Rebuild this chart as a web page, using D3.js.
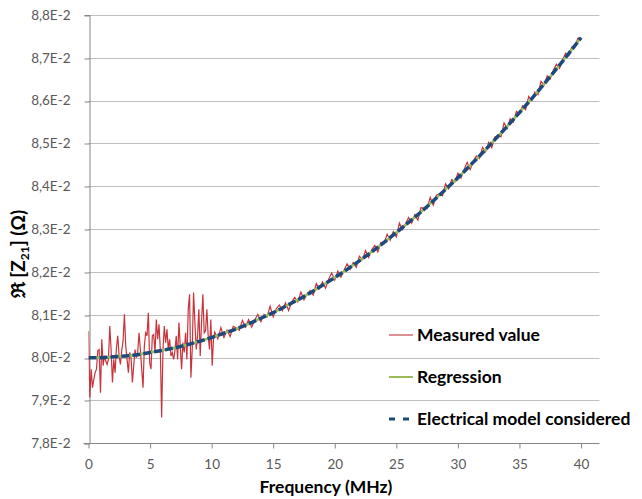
<!DOCTYPE html>
<html><head><meta charset="utf-8">
<script src="https://cdn.jsdelivr.net/npm/d3@7"></script>
<style>body{margin:0;background:#fff;} svg{display:block;}</style>
</head><body>
<svg id="c" width="642" height="499"></svg>
<script>
// ---- data ----
const xTicks = [0, 5, 10, 15, 20, 25, 30, 35, 40];
const yTicks = [0.078, 0.079, 0.080, 0.081, 0.082, 0.083, 0.084, 0.085, 0.086, 0.087, 0.088];
const yTickLabels = ["7,8E-2","7,9E-2","8,0E-2","8,1E-2","8,2E-2","8,3E-2","8,4E-2","8,5E-2","8,6E-2","8,7E-2","8,8E-2"];
const seriesNames = ["Measured value", "Regression", "Electrical model considered"];

// frequency grid (MHz) of the fitted curves
const curveFreq = [0,1,2,3,4,5,6,7,8,9,10,11,12,13,14,15,16,17,18,19,20,21,22,23,24,25,26,27,28,29,30,31,32,33,34,35,36,37,38,39,40];
const regression = [0.08000,0.08000,0.08002,0.08004,0.08007,0.08012,0.08017,0.08023,0.08030,0.08038,0.08047,0.08057,0.08067,0.08079,0.08092,0.08105,0.08120,0.08135,0.08151,0.08169,0.08187,0.08206,0.08226,0.08247,0.08269,0.08292,0.08316,0.08340,0.08366,0.08393,0.08420,0.08449,0.08478,0.08509,0.08540,0.08572,0.08605,0.08639,0.08674,0.08710,0.08747];
const electricalModel = [0.08000,0.08000,0.08002,0.08004,0.08007,0.08012,0.08017,0.08023,0.08030,0.08038,0.08047,0.08057,0.08067,0.08079,0.08092,0.08105,0.08120,0.08135,0.08151,0.08169,0.08187,0.08206,0.08226,0.08247,0.08269,0.08292,0.08316,0.08340,0.08366,0.08393,0.08420,0.08449,0.08478,0.08509,0.08540,0.08572,0.08605,0.08639,0.08674,0.08710,0.08747];

// measured value, low band (0 - 10.15 MHz, step 0.108 MHz)
const measuredLow = [0.08062,0.07907,0.07973,0.07930,0.07949,0.07965,0.07973,0.08016,0.08019,0.07918,
0.08043,0.07981,0.08004,0.07992,0.07984,0.07996,0.08074,0.08019,0.07942,0.07996,
0.07965,0.08023,0.08051,0.08004,0.07984,0.08016,0.08039,0.08101,0.08027,0.07996,
0.07965,0.08012,0.08000,0.07942,0.07981,0.08019,0.08000,0.08012,0.08058,0.08019,
0.07973,0.07930,0.08027,0.08058,0.08051,0.08105,0.07988,0.07973,0.08051,0.08054,
0.08012,0.08089,0.08043,0.08078,0.08019,0.07860,0.08019,0.08074,0.08035,0.08066,
0.08019,0.08043,0.08004,0.08012,0.07996,0.08016,0.08051,0.07996,0.08082,0.08027,
0.07973,0.08035,0.08012,0.08058,0.07996,0.08113,0.08148,0.07953,0.08019,0.08152,
0.08082,0.08019,0.08051,0.08113,0.08004,0.08082,0.08148,0.08058,0.08062,0.08113,
0.08051,0.08019,0.08089,0.07981,0.08043];
// measured value, high band (10.25 - 40 MHz, step 0.25 MHz)
const measuredHigh = [0.08060,0.08044,0.08070,0.08047,0.08064,0.08049,0.08073,0.08069,0.08064,0.08087,
0.08071,0.08089,0.08071,0.08088,0.08101,0.08084,0.08101,0.08095,0.08120,0.08095,
0.08114,0.08123,0.08110,0.08128,0.08110,0.08130,0.08141,0.08130,0.08153,0.08135,
0.08149,0.08157,0.08146,0.08173,0.08161,0.08177,0.08162,0.08183,0.08198,0.08181,
0.08202,0.08188,0.08204,0.08219,0.08206,0.08222,0.08211,0.08237,0.08229,0.08250,
0.08234,0.08252,0.08262,0.08247,0.08269,0.08266,0.08288,0.08274,0.08294,0.08282,
0.08314,0.08299,0.08313,0.08327,0.08314,0.08334,0.08321,0.08350,0.08349,0.08348,
0.08374,0.08356,0.08379,0.08382,0.08378,0.08406,0.08394,0.08416,0.08410,0.08431,
0.08419,0.08439,0.08456,0.08439,0.08459,0.08471,0.08465,0.08491,0.08481,0.08503,
0.08490,0.08515,0.08518,0.08516,0.08548,0.08535,0.08558,0.08550,0.08575,0.08569,
0.08588,0.08579,0.08610,0.08600,0.08620,0.08614,0.08645,0.08636,0.08658,0.08651,
0.08671,0.08685,0.08675,0.08695,0.08711,0.08705,0.08725,0.08726,0.08746,0.08747];

const measuredFreq = measuredLow.map((v, i) => i * 0.108).concat(measuredHigh.map((v, i) => 10.25 + i * 0.25));
const measured = measuredLow.concat(measuredHigh);

// ---- drawing ----
const svg = d3.select("#c");
const font = "Lato, 'Open Sans', sans-serif";
const x = d3.scaleLinear().domain([0, 41.5]).range([88.5, 599.5]);
const y = d3.scaleLinear().domain([0.078, 0.088]).range([443.3, 15]);

// gridlines
svg.append("g").selectAll("line").data(yTicks.slice(1)).join("line")
  .attr("x1", x(0)).attr("x2", x(41.5))
  .attr("y1", d => Math.round(y(d)) + 0.5).attr("y2", d => Math.round(y(d)) + 0.5)
  .attr("stroke", "#bfbfbf").attr("stroke-width", 1);

// y axis
const yAxis = d3.axisLeft(y).tickValues(yTicks).tickSize(5).tickPadding(14)
  .tickFormat((d, i) => yTickLabels[i]);
const gy = svg.append("g").attr("transform", `translate(${Math.round(x(0)) + 0.5},0)`).call(yAxis);
gy.selectAll(".tick line").attr("transform", d => `translate(0,${Math.round(y(d)) + 0.5 - y(d)})`);

// x axis
const xAxis = d3.axisBottom(x).tickValues(xTicks).tickSize(5).tickPadding(11).tickFormat(d3.format("d"));
const gx = svg.append("g").attr("transform", `translate(0,${Math.round(y(0.078)) + 0.5})`).call(xAxis);
gx.select(".domain").attr("d", `M${x(0) - 5},0H${x(41.5)}`);

[gx, gy].forEach(g => {
  g.select(".domain").attr("stroke", "#868686");
  g.selectAll(".tick line").attr("stroke", "#868686");
  g.selectAll(".tick text").attr("fill", "#595959").style("font-family", font).style("font-size", "13.5px");
});

// series
svg.append("clipPath").attr("id", "pa").append("rect")
  .attr("x", x(0)).attr("y", 0).attr("width", x(41.5) - x(0)).attr("height", y(0.078));
const plot = svg.append("g").attr("clip-path", "url(#pa)");

const line = d3.line().x(d => x(d[0])).y(d => y(d[1]));
plot.append("path").datum(measuredFreq.map((f, i) => [f, measured[i]]))
  .attr("d", line).attr("fill", "none").attr("stroke", "#c8333b").attr("stroke-width", 1.2);
const curve = d3.line().curve(d3.curveMonotoneX).x(d => x(d[0])).y(d => y(d[1]));
plot.append("path").datum(curveFreq.map((f, i) => [f, regression[i]]))
  .attr("d", curve).attr("fill", "none").attr("stroke", "#9bbb59").attr("stroke-width", 2.5);
plot.append("path").datum(curveFreq.map((f, i) => [f, electricalModel[i]]))
  .attr("d", curve).attr("fill", "none").attr("stroke", "#1f497d").attr("stroke-width", 3.5)
  .attr("stroke-dasharray", "8,3");

// legend
const legend = svg.append("g");
const ly = [335, 377, 419];
const lstyles = [
  {c: "#c8333b", w: 1.1, dash: null},
  {c: "#9bbb59", w: 2, dash: null},
  {c: "#1f497d", w: 3, dash: "6,8"}
];
seriesNames.forEach((n, i) => {
  legend.append("line").attr("x1", 389).attr("x2", 413).attr("y1", ly[i]).attr("y2", ly[i])
    .attr("stroke", lstyles[i].c).attr("stroke-width", lstyles[i].w)
    .attr("stroke-dasharray", lstyles[i].dash);
  legend.append("text").attr("x", 417).attr("y", ly[i]).attr("dy", "0.35em")
    .style("font-family", font).style("font-size", "17.5px").style("font-weight", "bold")
    .attr("fill", "#000").text(n);
});

// axis titles
svg.append("text").attr("x", 326).attr("y", 493).attr("text-anchor", "middle")
  .style("font-family", font).style("font-size", "17.5px").style("font-weight", "bold").text("Frequency (MHz)");

const yt = svg.append("text").attr("transform", "translate(25,254) rotate(-90)").attr("text-anchor", "middle")
  .style("font-family", font).style("font-size", "19px").style("font-weight", "bold");
yt.append("tspan").style("font-family", "'DejaVu Serif', serif").text("\u211C");
yt.append("tspan").text(" [Z");
yt.append("tspan").attr("dy", 4).style("font-size", "12px").text("21");
yt.append("tspan").attr("dy", -4).text("]  (\u03A9)");
</script>
</body></html>
